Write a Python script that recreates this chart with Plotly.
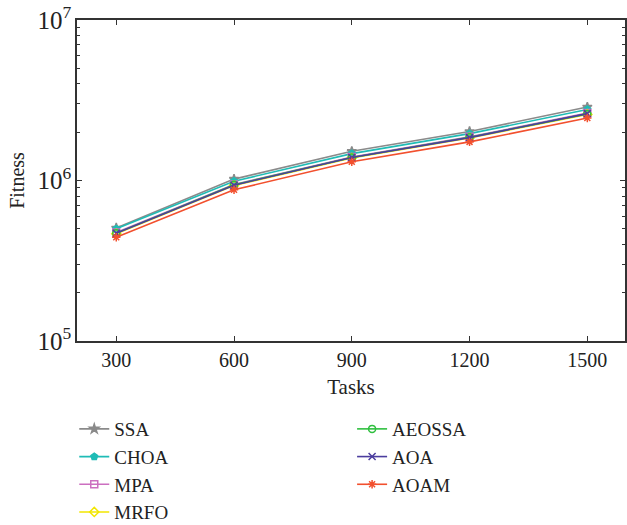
import plotly.graph_objects as go

tasks = [300, 600, 900, 1200, 1500]

ssa = [5.06e5, 1.02e6, 1.52e6, 2.02e6, 2.87e6]
choa = [5.00e5, 0.99e6, 1.47e6, 1.96e6, 2.77e6]
mpa = [4.75e5, 0.945e6, 1.40e6, 1.87e6, 2.63e6]
mrfo = [4.65e5, 0.93e6, 1.38e6, 1.84e6, 2.58e6]
aeossa = [4.70e5, 0.94e6, 1.39e6, 1.86e6, 2.60e6]
aoa = [4.69e5, 0.935e6, 1.39e6, 1.85e6, 2.61e6]
aoam = [4.43e5, 0.875e6, 1.31e6, 1.74e6, 2.45e6]

series = [
    # name, values, colour, symbol, legend
    ("SSA", ssa, "#8a8a8a", "star", "legend"),
    ("CHOA", choa, "#1fbcb6", "pentagon", "legend"),
    ("MPA", mpa, "#cc6fc0", "square-open", "legend"),
    ("MRFO", mrfo, "#f2e600", "diamond-open", "legend"),
    ("AEOSSA", aeossa, "#2fbf3f", "circle-open", "legend2"),
    ("AOA", aoa, "#4b3d9e", "x-thin", "legend2"),
    ("AOAM", aoam, "#f2502e", "asterisk", "legend2"),
]

FONT = "Liberation Serif, Times New Roman, serif"
TXT = "#222222"

fig = go.Figure()
for name, vals, color, sym, leg in series:
    fig.add_trace(go.Scatter(
        x=tasks, y=vals, name=name, mode="lines+markers",
        line=dict(color=color, width=1.6),
        marker=dict(symbol=sym, size=7, color=color,
                    line=dict(color=color, width=1.5)),
        legend=leg,
    ))

axis_common = dict(
    showline=True, linecolor="#333333", linewidth=1.5, mirror="ticks",
    ticks="inside", ticklen=5, tickwidth=1.2, tickcolor="#333333",
    showgrid=False, zeroline=False,
    tickfont=dict(family=FONT, size=20, color=TXT),
)

fig.update_xaxes(
    **axis_common, range=[200, 1596], tickvals=tasks,
    title=dict(text="Tasks", font=dict(family=FONT, size=21, color=TXT),
               standoff=10),
)
fig.update_yaxes(
    **axis_common, type="log", range=[5, 7], dtick=1,
    exponentformat="power", showexponent="all",
    minor=dict(ticks="inside", ticklen=3, tickwidth=1.2, tickcolor="#333333",
               showgrid=False),
    title=dict(text="Fitness", font=dict(family=FONT, size=20, color=TXT),
               standoff=8),
)

legend_style = dict(
    font=dict(family=FONT, size=19, color=TXT),
    bgcolor="rgba(0,0,0,0)", orientation="v", yanchor="top", xanchor="left",
    xref="paper", yref="container",
    tracegroupgap=0, itemwidth=30,
)
fig.update_layout(
    width=627, height=525,
    margin=dict(l=77, r=0, t=20, b=184),
    paper_bgcolor="white", plot_bgcolor="white",
    font=dict(family=FONT),
    legend=dict(**legend_style, x=-0.005, y=0.219),
    legend2=dict(**legend_style, x=0.502, y=0.219),
)

fig.write_html("out.html")
